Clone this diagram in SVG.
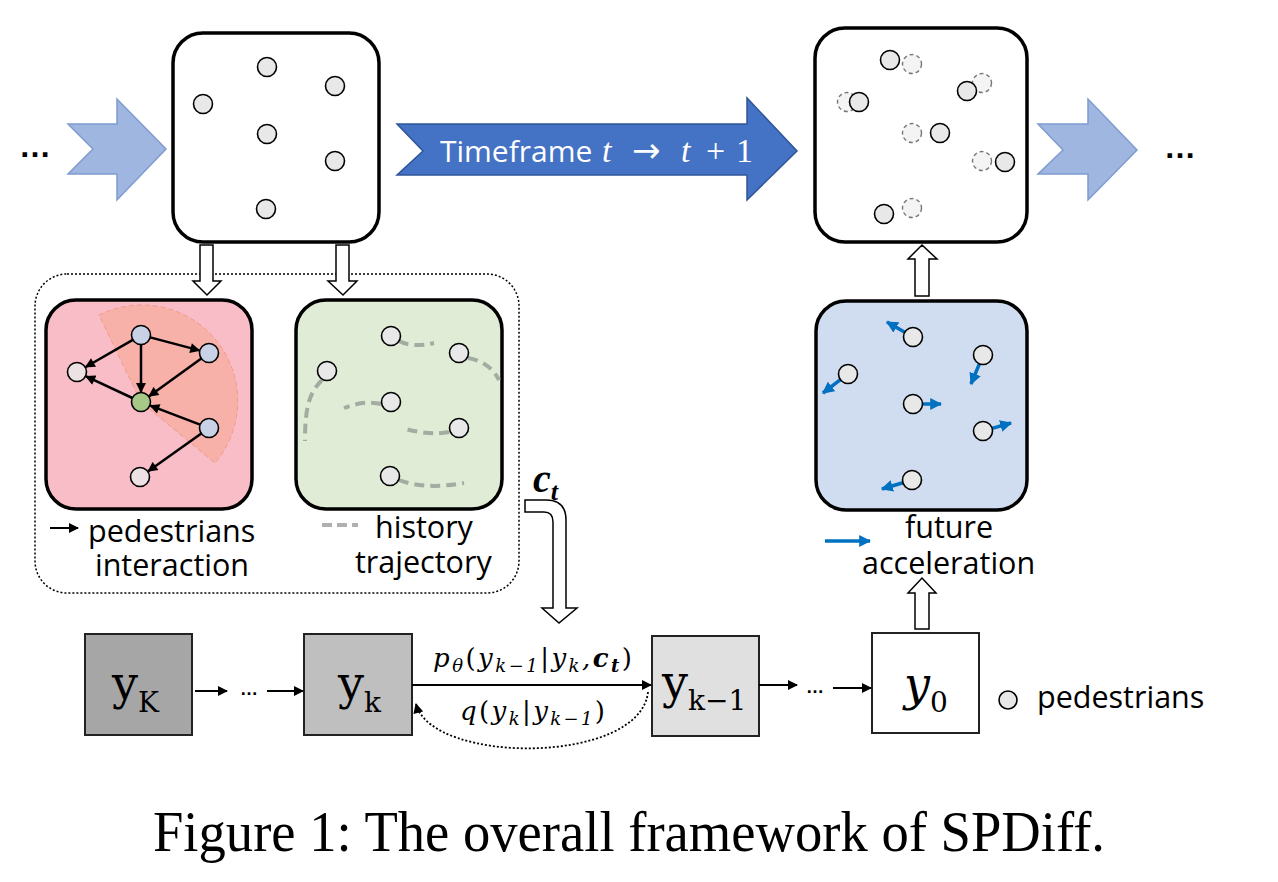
<svg xmlns="http://www.w3.org/2000/svg" width="1278" height="882" viewBox="0 0 1278 882">
<defs>
<style>
.frame{stroke:#000;stroke-width:3.5}
.ped{fill:#e8e8e8;stroke:#000;stroke-width:1.6}
.ghost{fill:#f4f4f4;stroke:#777;stroke-width:1.4;stroke-dasharray:4 3}
.hollow{fill:#fff;stroke:#000;stroke-width:1.5}
.lbl{font-family:"Open Sans","Noto Sans",sans-serif;font-size:30.5px;fill:#000}
.math{font-family:"Liberation Serif",serif;font-style:italic;fill:#000}
.mth{font-family:"DejaVu Serif",serif;font-style:italic;fill:#000}
.ybox{stroke:#222;stroke-width:2}
.ylab{font-family:"DejaVu Serif",serif;font-size:46px;fill:#000}
.net{stroke:#000;stroke-width:2.5;fill:none;marker-end:url(#ah)}
.acc{stroke:#0070c0;stroke-width:3.5;fill:none;marker-end:url(#ahb)}
.traj{stroke:#a3aca0;stroke-width:4;fill:none;stroke-dasharray:10 6}
.conn{stroke:#000;stroke-width:2;fill:none;marker-end:url(#ah)}
.bigarrow{fill:#9fb7e0;stroke:#7f9bcf;stroke-width:1.5}
.dots{font-family:"Liberation Sans",sans-serif;font-weight:bold;fill:#000}
</style>
<marker id="ah" viewBox="0 0 10 10" refX="9" refY="5" markerWidth="11" markerHeight="10" markerUnits="userSpaceOnUse" orient="auto"><path d="M0,0 L10,5 L0,10 z" fill="#000"/></marker>
<marker id="ahb" viewBox="0 0 10 10" refX="9" refY="5" markerWidth="12" markerHeight="12" markerUnits="userSpaceOnUse" orient="auto"><path d="M0,0 L10,5 L0,10 z" fill="#0070c0"/></marker>
</defs>
<rect width="1278" height="882" fill="#fff"/>

<!-- top row -->
<g id="in-arrow">
<text class="dots" x="35" y="157" font-size="32" text-anchor="middle">…</text>
<path class="bigarrow" d="M68,124 L117,124 L117,99 L166,149 L117,200 L117,174 L68,174 L93,149 Z"/>
</g>
<g id="frame-t">
<rect class="frame" x="173" y="33" width="206" height="209" rx="30" fill="#fff"/>
<circle class="ped" cx="267" cy="67" r="9.5"/>
<circle class="ped" cx="335" cy="86" r="9.5"/>
<circle class="ped" cx="203" cy="104" r="9.5"/>
<circle class="ped" cx="267" cy="134" r="9.5"/>
<circle class="ped" cx="335" cy="161" r="9.5"/>
<circle class="ped" cx="266" cy="209" r="9.5"/>
</g>
<g id="timeframe-arrow">
<path d="M397,124 L747,124 L747,98 L797,151 L747,200 L747,175 L397,175 L423,151 Z" fill="#4472c4" stroke="#2f5597" stroke-width="1.5"/>
<text y="162" fill="#fff"><tspan x="440" font-family="Open Sans,sans-serif" font-size="30">Timeframe</tspan><tspan x="602" font-family="Liberation Serif,serif" font-style="italic" font-size="34">t</tspan><tspan x="632" font-family="DejaVu Sans,sans-serif" font-size="34">→</tspan><tspan x="681" font-family="Liberation Serif,serif" font-style="italic" font-size="34">t</tspan><tspan x="706" font-family="Liberation Serif,serif" font-size="34">+</tspan><tspan x="736" font-family="Liberation Serif,serif" font-size="34">1</tspan></text>
</g>
<g id="frame-t1">
<rect class="frame" x="815" y="28" width="212" height="214" rx="30" fill="#fff"/>
<circle class="ghost" cx="912" cy="64" r="9.5"/>
<circle class="ghost" cx="847" cy="102" r="9.5"/>
<circle class="ghost" cx="982" cy="83" r="9.5"/>
<circle class="ghost" cx="912" cy="133" r="9.5"/>
<circle class="ghost" cx="982" cy="161" r="9.5"/>
<circle class="ghost" cx="912" cy="208" r="9.5"/>
<circle class="ped" cx="890" cy="60" r="9.5"/>
<circle class="ped" cx="859" cy="102" r="9.5"/>
<circle class="ped" cx="967" cy="91" r="9.5"/>
<circle class="ped" cx="940" cy="133" r="9.5"/>
<circle class="ped" cx="1005" cy="162" r="9.5"/>
<circle class="ped" cx="884" cy="214" r="9.5"/>
</g>
<g id="out-arrow">
<path class="bigarrow" d="M1038,124 L1088,124 L1088,99 L1137,150 L1088,200 L1088,174 L1038,174 L1063,150 Z"/>
<text class="dots" x="1180" y="158" font-size="32" text-anchor="middle">…</text>
</g>

<!-- condition group -->
<g id="condition-group">
<rect x="35" y="274" width="484" height="319" rx="32" fill="none" stroke="#000" stroke-width="1.5" stroke-dasharray="2 2"/>
</g>
<g id="interaction">
<rect class="frame" x="46" y="300" width="206" height="209" rx="30" fill="#f9bdc7"/>
<path d="M141,402 L99,315 A96,96 0 0,1 215,463 Z" fill="#f7b1a9" stroke="#f29a86" stroke-width="1" stroke-dasharray="5 3"/>
<path class="net" d="M132.8,339.8 L85.7,367"/>
<path class="net" d="M150.2,337.4 L199.3,350.4"/>
<path class="net" d="M141,344.5 L141,392"/>
<path class="net" d="M201.3,358.6 L149.1,396.2"/>
<path class="net" d="M132.4,398 L86.1,376.3"/>
<path class="net" d="M200.1,424.6 L150.3,405.6"/>
<path class="net" d="M201.3,433.5 L148.2,471.2"/>
<circle cx="141" cy="335" r="9.5" fill="#c9d1e6" stroke="#000" stroke-width="1.6"/>
<circle cx="209" cy="353" r="9.5" fill="#c9d1e6" stroke="#000" stroke-width="1.6"/>
<circle cx="77" cy="372" r="9.5" fill="#ece2e4" stroke="#000" stroke-width="1.6"/>
<circle cx="141" cy="402" r="9.5" fill="#a8c888" stroke="#000" stroke-width="1.6"/>
<circle cx="209" cy="428" r="9.5" fill="#c9d1e6" stroke="#000" stroke-width="1.6"/>
<circle cx="140" cy="477" r="9.5" fill="#ece2e4" stroke="#000" stroke-width="1.6"/>
<path d="M50,528 L78,528" stroke="#000" stroke-width="2" marker-end="url(#ah)"/>
<text class="lbl"><tspan x="88" y="542">pedestrians</tspan><tspan x="172" y="576" text-anchor="middle">interaction</tspan></text>
</g>
<g id="history">
<rect class="frame" x="296" y="300" width="206" height="209" rx="30" fill="#e0ecd6"/>
<path class="traj" d="M399,341 Q412,348 434,343"/>
<path class="traj" d="M468,358 Q490,362 499,380"/>
<path class="traj" d="M322,380 C310,392 305,405 305,441"/>
<path class="traj" d="M381,404 Q365,400 344,408"/>
<path class="traj" d="M449,432 Q430,436 402,428"/>
<path class="traj" d="M399,480 Q425,490 464,483"/>
<circle class="ped" cx="391" cy="336" r="9.5"/>
<circle class="ped" cx="459" cy="353" r="9.5"/>
<circle class="ped" cx="327" cy="371" r="9.5"/>
<circle class="ped" cx="391" cy="402" r="9.5"/>
<circle class="ped" cx="459" cy="428" r="9.5"/>
<circle class="ped" cx="390" cy="476" r="9.5"/>
<path d="M322,525 L358,525" stroke="#b0b0b0" stroke-width="4" stroke-dasharray="10 5"/>
<text class="lbl"><tspan x="375" y="538">history</tspan><tspan x="355" y="573">trajectory</tspan></text>
</g>
<g id="acceleration">
<rect class="frame" x="816" y="301" width="211" height="209" rx="30" fill="#d0dcf0"/>
<path class="acc" d="M904.8,332.3 L887,322"/>
<path class="acc" d="M979.4,363.8 L971,384"/>
<path class="acc" d="M840.4,379.7 L823,393"/>
<path class="acc" d="M922.5,404 L941,404"/>
<path class="acc" d="M992.1,428.4 L1011,423"/>
<path class="acc" d="M902.9,482.7 L882,489"/>
<circle class="ped" cx="913" cy="337" r="9.5"/>
<circle class="ped" cx="983" cy="355" r="9.5"/>
<circle class="ped" cx="848" cy="374" r="9.5"/>
<circle class="ped" cx="913" cy="404" r="9.5"/>
<circle class="ped" cx="983" cy="431" r="9.5"/>
<circle class="ped" cx="912" cy="480" r="9.5"/>
<path class="acc" d="M825,541 L870,541"/>
<text class="lbl"><tspan x="949" y="538" text-anchor="middle">future</tspan><tspan x="862" y="574">acceleration</tspan></text>
</g>

<!-- diffusion chain -->
<g id="yK">
<rect class="ybox" x="85" y="634" width="107" height="101" fill="#a6a6a6"/>
<text class="ylab" x="112" y="699">y<tspan font-size="28" dy="13">K</tspan></text>
</g>
<g id="yk">
<rect class="ybox" x="304" y="634" width="108" height="101" fill="#bfbfbf"/>
<text class="ylab" x="338" y="699">y<tspan font-size="28" dy="13">k</tspan></text>
</g>
<g id="yk-1">
<rect class="ybox" x="652" y="636" width="107" height="100" fill="#e0e0e0"/>
<text class="ylab" x="662" y="698">y<tspan font-size="28" dy="12">k−1</tspan></text>
</g>
<g id="y0">
<rect class="ybox" x="872" y="633" width="107" height="100" fill="#fff"/>
<text class="ylab" x="904" y="700" font-style="italic">y<tspan font-size="28" dy="12" font-style="normal">0</tspan></text>
</g>
<g id="legend">
<circle class="ped" cx="1008" cy="700" r="9"/>
<text class="lbl" x="1037" y="708" font-size="32">pedestrians</text>
</g>

<g id="connectors">
<path class="hollow" d="M200,245 L213,245 L213,281 L221,281 L207,295 L193,281 L200,281 Z"/>
<path class="hollow" d="M336,245 L349,245 L349,281 L357,281 L343,295 L328,281 L336,281 Z"/>
<path class="hollow" d="M915,296 L929,296 L929,259 L937,259 L922,245 L908,259 L915,259 Z"/>
<path class="hollow" d="M915,629 L929,629 L929,593 L936,593 L922,578 L908,593 L915,593 Z"/>
<path class="hollow" d="M525,500 L546,500 Q566,500 566,520 L566,608 L577,608 L559,623 L542,608 L553,608 L553,522 Q553,512 544,512 L525,512 Z"/>
<text class="math" x="533" y="492" font-size="40" font-weight="bold">c<tspan font-size="26" dy="8">t</tspan></text>
<path class="conn" d="M195,691 L227,691"/>
<text class="dots" x="249" y="695" font-size="18" text-anchor="middle">…</text>
<path class="conn" d="M267,691 L303,691"/>
<path class="conn" d="M412,685 L651,685"/>
<path d="M648,692 C640,765 432,765 416,704" fill="none" stroke="#000" stroke-width="1.8" stroke-dasharray="2 2" marker-end="url(#ah)"/>
<text class="mth" x="433" y="667" font-size="26" textLength="199" lengthAdjust="spacing">p<tspan font-size="18" dy="5">θ</tspan><tspan dy="-5" font-style="normal">(</tspan>y<tspan font-size="18" dy="5">k−1</tspan><tspan dy="-5" font-style="normal">|</tspan>y<tspan font-size="18" dy="5">k</tspan><tspan dy="-5">,</tspan><tspan font-weight="bold">c</tspan><tspan font-size="18" font-weight="bold" dy="5">t</tspan><tspan dy="-5" font-style="normal">)</tspan></text>
<text class="mth" x="460" y="720" font-size="26" textLength="145" lengthAdjust="spacing">q<tspan font-style="normal">(</tspan>y<tspan font-size="18" dy="5">k</tspan><tspan dy="-5" font-style="normal">|</tspan>y<tspan font-size="18" dy="5">k−1</tspan><tspan dy="-5" font-style="normal">)</tspan></text>
<path class="conn" d="M759,685 L797,685"/>
<text class="dots" x="815" y="693" font-size="18" text-anchor="middle">…</text>
<path class="conn" d="M833,688 L871,688"/>
</g>

<text x="153" y="851" font-family="Liberation Serif,serif" font-size="58" textLength="952" lengthAdjust="spacingAndGlyphs" fill="#000">Figure 1: The overall framework of SPDiff.</text>
</svg>
